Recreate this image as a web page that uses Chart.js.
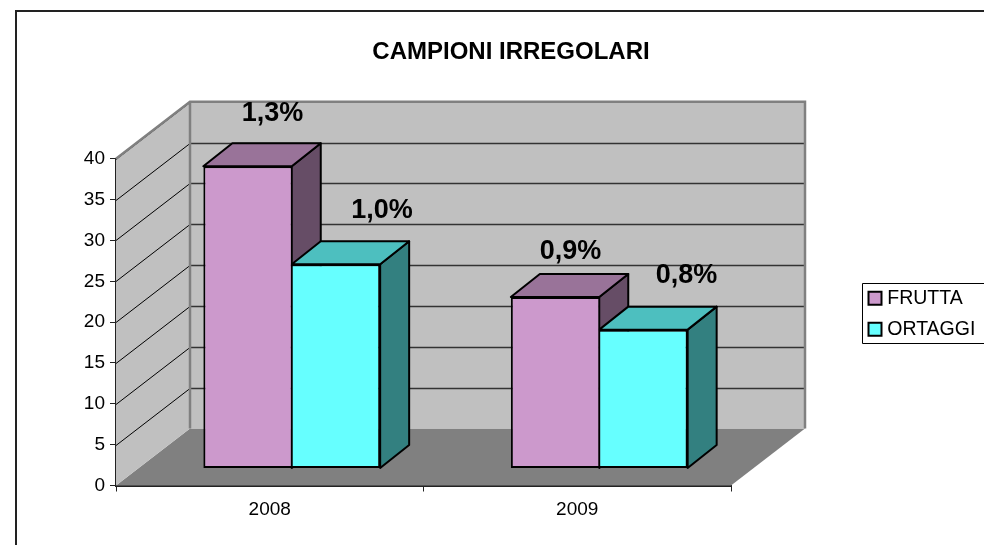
<!DOCTYPE html>
<html>
<head>
<meta charset="utf-8">
<title>Campioni irregolari</title>
<script src="https://cdn.jsdelivr.net/npm/chart.js@4"></script>
<style>
  html, body { margin: 0; padding: 0; background: #fff; overflow: hidden; }
  #wrap { width: 984px; height: 545px; }
</style>
</head>
<body>
<div id="wrap"><canvas id="campioniChart" width="984" height="545"></canvas></div>
<script>
const categories = ['2008', '2009'];
const frutta = [37, 21];
const ortaggi = [25, 17];
const fruttaLabels = ['1,3%', '0,9%'];
const ortaggiLabels = ['1,0%', '0,8%'];
const yTicks = [0, 5, 10, 15, 20, 25, 30, 35, 40];

const FONT = '"Liberation Sans", Arial, sans-serif';

// profondita' della parete di fondo e delle barre
const wallDx = 74, wallDy = 57;
const barShiftDx = 22, barShiftDy = 17;
const barDx = 29, barDy = 23;

function shade(rgb, k) {
    return 'rgb(' + rgb.map(c => Math.round(c * k)).join(',') + ')';
}

function poly(ctx, pts, fill, stroke, lw) {
    ctx.beginPath();
    pts.forEach((p, i) => i ? ctx.lineTo(p[0], p[1]) : ctx.moveTo(p[0], p[1]));
    ctx.closePath();
    if (fill) { ctx.fillStyle = fill; ctx.fill(); }
    if (stroke) { ctx.strokeStyle = stroke; ctx.lineWidth = lw; ctx.lineJoin = 'round'; ctx.stroke(); }
}

const box3d = {
    id: 'box3d',
    afterLayout(chart) {
        // legenda e titolo stanno dove erano nel foglio originale
        const lg = chart.legend;
        lg.left = 861; lg.top = 277; lg.right = lg.left + lg.width; lg.bottom = lg.top + lg.height;
        const tb = chart.titleBlock;
        tb.left = 372; tb.right = 650; tb.top = 38; tb.bottom = 70;
    },
    beforeDatasetsDraw(chart) {
        const { ctx, scales: { x, y } } = chart;
        const left = x.left, right = x.right;
        const y0 = y.getPixelForValue(0), yTop = y.getPixelForValue(40);
        ctx.save();
        // pavimento e pareti
        poly(ctx, [[left, y0], [left + wallDx, y0 - wallDy], [right + wallDx, y0 - wallDy], [right, y0]], '#808080');
        poly(ctx, [[left, yTop], [left + wallDx, yTop - wallDy], [left + wallDx, y0 - wallDy], [left, y0]], '#c0c0c0');
        ctx.fillStyle = '#c0c0c0';
        ctx.fillRect(left + wallDx, yTop - wallDy, right - left, y0 - yTop);
        // griglia
        yTicks.forEach(v => {
            if (v === 0) return;
            const py = Math.round(y.getPixelForValue(v)) + 0.5;
            ctx.strokeStyle = '#000';
            ctx.lineWidth = 1;
            ctx.beginPath();
            ctx.moveTo(left, py);
            ctx.lineTo(left + wallDx, py - wallDy);
            ctx.stroke();
            if (v === 40) return;
            ctx.strokeStyle = '#333';
            ctx.lineWidth = 1.5;
            ctx.beginPath();
            ctx.moveTo(left + wallDx, py - wallDy);
            ctx.lineTo(right + wallDx, py - wallDy);
            ctx.stroke();
        });
        // bordi grigi delle pareti
        ctx.strokeStyle = '#808080';
        ctx.lineWidth = 2.5;
        ctx.beginPath();
        ctx.moveTo(left, yTop);
        ctx.lineTo(left + wallDx, yTop - wallDy);
        ctx.lineTo(right + wallDx, yTop - wallDy);
        ctx.lineTo(right + wallDx, y0 - wallDy);
        ctx.moveTo(left + wallDx, yTop - wallDy);
        ctx.lineTo(left + wallDx, y0 - wallDy);
        ctx.stroke();
        ctx.translate(barShiftDx, -barShiftDy);
        // facce laterali e superiori, FRUTTA sotto ORTAGGI
        chart.data.datasets.forEach((d, idx) => {
            chart.getDatasetMeta(idx).data.forEach(bar => {
                const l = bar.x - bar.width / 2, r = bar.x + bar.width / 2;
                poly(ctx, [[r, bar.y], [r + barDx, bar.y - barDy], [r + barDx, bar.base - barDy], [r, bar.base]], shade(d.baseRgb, 0.5), '#000', 2);
                poly(ctx, [[l, bar.y], [l + barDx, bar.y - barDy], [r + barDx, bar.y - barDy], [r, bar.y]], shade(d.baseRgb, 0.75), '#000', 2);
            });
        });
        ctx.restore();
    },
    beforeDatasetDraw(chart) {
        chart.ctx.save();
        chart.ctx.translate(barShiftDx, -barShiftDy);
    },
    afterDatasetDraw(chart) {
        chart.ctx.restore();
    },
    afterDatasetsDraw(chart) {
        const { ctx } = chart;
        const sets = [[0, fruttaLabels, [[25, -53], [15.5, -45]]], [1, ortaggiLabels, [[46, -54], [43, -54]]]];
        ctx.save();
        ctx.fillStyle = '#000';
        ctx.font = 'bold 27px ' + FONT;
        ctx.textAlign = 'center';
        ctx.textBaseline = 'middle';
        sets.forEach(([idx, labels, nudges]) => {
            chart.getDatasetMeta(idx).data.forEach((bar, i) => {
                ctx.fillText(labels[i], bar.x + barShiftDx + nudges[i][0], bar.y - barShiftDy + nudges[i][1]);
            });
        });
        ctx.restore();
    },
    beforeDraw(chart) {
        const { ctx } = chart;
        ctx.save();
        ctx.fillStyle = '#fff';
        ctx.fillRect(0, 0, chart.width, chart.height);
        ctx.strokeStyle = '#222';
        ctx.lineWidth = 2;
        ctx.beginPath();
        ctx.moveTo(16, 545);
        ctx.lineTo(16, 11);
        ctx.lineTo(984, 11);
        ctx.stroke();
        ctx.strokeStyle = '#000';
        ctx.lineWidth = 1;
        ctx.beginPath();
        ctx.moveTo(984, 283.5);
        ctx.lineTo(862.5, 283.5);
        ctx.lineTo(862.5, 343.5);
        ctx.lineTo(984, 343.5);
        ctx.stroke();
        ctx.restore();
    }
};

const campioniChart = new Chart(document.getElementById('campioniChart').getContext('2d'), {
    type: 'bar',
    data: {
        labels: categories,
        datasets: [
            { label: 'FRUTTA', data: frutta, backgroundColor: '#cc99cc', baseRgb: [204, 153, 204],
              borderWidth: { top: 2, left: 2, bottom: 2, right: 1 } },
            { label: 'ORTAGGI', data: ortaggi, backgroundColor: '#66ffff', baseRgb: [102, 255, 255],
              borderWidth: { top: 2, left: 1, bottom: 2, right: 2 } }
        ].map(d => Object.assign(d, {
            borderColor: '#000',
            borderSkipped: false,
            categoryPercentage: 0.575,
            barPercentage: 1,
            clip: false
        }))
    },
    plugins: [box3d],
    options: {
        responsive: false,
        animation: false,
        layout: { padding: { left: 0, right: 253, top: 130, bottom: 0 } },
        plugins: {
            tooltip: { enabled: false },
            title: {
                display: true,
                text: 'CAMPIONI IRREGOLARI',
                color: '#000',
                font: { family: FONT, size: 24, weight: 'bold' },
                padding: 0,
                fullSize: false
            },
            legend: {
                position: 'chartArea',
                align: 'start',
                onClick: null,
                labels: {
                    color: '#000',
                    font: { family: FONT, size: 19.5 },
                    usePointStyle: true,
                    boxWidth: 5,
                    boxHeight: 13,
                    padding: 11.5,
                    generateLabels(chart) {
                        return chart.data.datasets.map((d, i) => ({
                            text: d.label,
                            fillStyle: d.backgroundColor,
                            strokeStyle: '#000',
                            lineWidth: 2,
                            pointStyle: 'rect',
                            datasetIndex: i
                        }));
                    }
                }
            }
        },
        scales: {
            x: {
                afterFit(scale) { scale.height = 59.5; },
                border: { color: '#222', width: 2 },
                grid: { drawOnChartArea: false, color: '#222', tickLength: 6 },
                ticks: { color: '#000', font: { family: FONT, size: 19 }, padding: 7, maxRotation: 0 }
            },
            y: {
                min: 0,
                max: 40,
                afterFit(scale) { scale.width = 116; },
                afterBuildTicks(scale) { scale.ticks = yTicks.map(v => ({ value: v })); },
                border: { color: '#222', width: 2 },
                grid: { drawOnChartArea: false, color: '#222', tickLength: 6 },
                ticks: { color: '#000', font: { family: FONT, size: 19 }, padding: 5 }
            }
        }
    }
});
</script>
</body>
</html>
